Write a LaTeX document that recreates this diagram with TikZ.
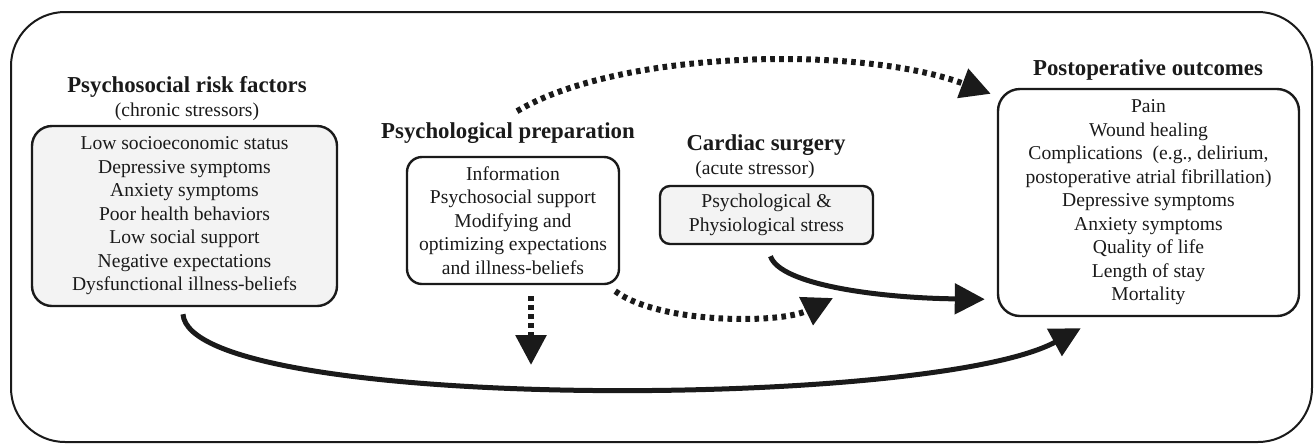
\documentclass[tikz,border=0pt]{standalone}
\usepackage{fontspec}
\setmainfont{Liberation Serif}
\usetikzlibrary{arrows.meta,calc}
\definecolor{boxgray}{HTML}{F3F3F3}
\definecolor{ink}{HTML}{1A1A1A}
\begin{document}
\begin{tikzpicture}[x=0.5pt,y=-0.5pt,
  box/.style={draw=ink,line width=1.2pt,align=center,inner sep=0pt,text=ink,font=\fontsize{9.8}{11.75}\selectfont},
  title/.style={font=\fontsize{11.4}{13}\selectfont\bfseries,inner sep=0pt,text=ink},
  sub/.style={font=\fontsize{9.8}{11.75}\selectfont,inner sep=0pt,text=ink},
  dotarrow/.style={draw=ink,line width=3pt,dash pattern=on 2.3pt off 2.2pt,-{Triangle[length=15pt,width=15pt]}},
  solidarrow/.style={draw=ink,line width=2.5pt,-{Triangle[length=15pt,width=15pt]}},
]
\useasboundingbox (0,0) rectangle (1314,446);
\node[draw=ink, line width=1pt, rounded corners=27pt, minimum width=650.5pt, minimum height=215pt, inner sep=0pt] (frame) at (661.5,227) {};

\node[title] (risktitle) at (187,87) {Psychosocial risk factors};
\node[sub] (risksub) at (187,112) {(chronic stressors)};
\node[box, fill=boxgray, rounded corners=10pt, minimum width=152.5pt, minimum height=90pt] (risk) at (184.5,216)
  {Low socioeconomic status\\Depressive symptoms\\Anxiety symptoms\\Poor health behaviors\\Low social support\\Negative expectations\\Dysfunctional illness-beliefs};

\node[title] (preptitle) at (508,133) {Psychological preparation};
\node[box, rounded corners=7.5pt, minimum width=106pt, minimum height=63.5pt] (prep) at (513,220.5)
  {Information\\Psychosocial support\\Modifying and\\optimizing expectations\\and illness-beliefs};

\node[title] (cardtitle) at (766,145) {Cardiac surgery};
\node[sub] (cardsub) at (755,170) {(acute stressor)};
\node[box, fill=boxgray, rounded corners=5pt, minimum width=106.5pt, minimum height=29pt] (card) at (766.5,215)
  {Psychological \&\\Physiological stress};

\node[title] (outtitle) at (1148,70) {Postoperative outcomes};
\node[box, rounded corners=11pt, minimum width=150.5pt, minimum height=113.5pt] (out) at (1148.5,202.5)
  {Pain\\Wound healing\\Complications\ \ (e.g., delirium,\\postoperative atrial fibrillation)\\Depressive symptoms\\Anxiety symptoms\\Quality of life\\Length of stay\\Mortality};

\coordinate (prepdown) at (531,365);
\coordinate (cardin) at (833,298);

\draw[dotarrow] ($(preptitle.north)+(9,-11)$) .. controls (620,50) and (860,45) .. ($(out.north west)+(-6,6)$);
\draw[dotarrow] ($(prep.south)+(18,11)$) -- (prepdown);
\draw[dotarrow] ($(prep.south east)+(-5,6)$) .. controls (660,324) and (780,324) .. (cardin);
\draw[solidarrow] ($(card.south)+(4,11)$) .. controls (780,285) and (880,298) .. ($(out.south west)+(-12,-18)$);
\draw[solidarrow] ($(risk.south)+(-1.5,7)$) .. controls (190,412) and (930,410) .. ($(out.south west)+(84,11)$);
\end{tikzpicture}
\end{document}
